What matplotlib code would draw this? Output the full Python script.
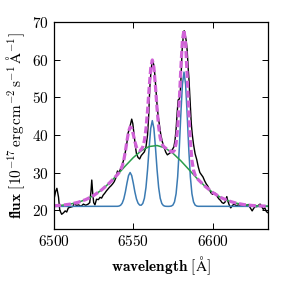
import matplotlib
matplotlib.use("Agg")
import matplotlib.pyplot as plt

plt.rcParams['font.family'] = 'serif'
plt.rcParams['font.serif'] = ['cmr10', 'DejaVu Serif']
plt.rcParams['mathtext.fontset'] = 'cm'
plt.rcParams['axes.formatter.use_mathtext'] = True

wl_obs = [6500.0, 6501.0, 6501.8, 6502.8, 6503.6, 6504.8, 6506.0, 6507.0, 6508.0, 6509.0,
          6510.5, 6512.0, 6513.0, 6514.0, 6515.5, 6517.0, 6518.5, 6520.0, 6521.5, 6522.5,
          6523.3, 6523.8, 6524.4, 6525.0, 6525.8, 6526.8, 6528.0, 6529.0, 6530.0, 6531.0,
          6532.0, 6533.0, 6534.0, 6535.0, 6536.0, 6537.0, 6538.0, 6539.0, 6540.0, 6541.0,
          6542.0, 6543.0, 6544.0, 6545.0, 6546.0, 6546.7, 6547.5, 6548.3, 6549.0, 6549.7,
          6550.5, 6551.3, 6552.0, 6553.0, 6554.0, 6555.0, 6556.0, 6557.0, 6558.0, 6559.0,
          6559.7, 6560.4, 6561.0, 6561.6, 6562.2, 6563.0, 6563.6, 6564.2, 6565.0, 6565.7,
          6566.5, 6567.3, 6568.3, 6569.4, 6570.5, 6571.5, 6572.5, 6573.5, 6574.5, 6575.6,
          6576.3, 6577.0, 6577.7, 6578.3, 6579.0, 6579.6, 6580.2, 6580.8, 6581.5, 6582.1,
          6582.8, 6583.4, 6584.0, 6584.6, 6585.1, 6585.6, 6586.1, 6586.6, 6587.2, 6588.0,
          6589.0, 6590.0, 6591.0, 6592.0, 6593.0, 6594.0, 6595.0, 6596.0, 6597.0, 6598.0,
          6599.0, 6600.0, 6601.0, 6602.0, 6603.0, 6604.0, 6605.0, 6606.0, 6607.0, 6608.0,
          6609.0, 6609.6, 6610.5, 6611.5, 6612.5, 6613.5, 6615.0, 6616.5, 6618.0, 6619.5,
          6621.0, 6622.5, 6623.8, 6625.0, 6626.0, 6627.0, 6628.0, 6629.0, 6630.0, 6631.0,
          6632.0, 6633.0, 6634.0, 6635.0]
flux_obs = [23.0, 25.0, 25.8, 23.5, 20.0, 18.9, 19.3, 19.8, 19.5, 20.6,
            20.8, 21.0, 22.0, 21.2, 21.4, 21.0, 21.6, 21.3, 21.6, 22.0,
            25.0, 28.0, 24.5, 22.0, 21.4, 22.9, 22.8, 23.4, 23.2, 24.0,
            24.5, 25.1, 25.6, 26.1, 26.5, 27.0, 27.6, 28.6, 30.4, 30.0,
            31.0, 32.0, 33.5, 35.5, 38.0, 40.5, 41.5, 43.0, 44.2, 43.0,
            40.0, 37.0, 35.0, 34.0, 33.6, 34.5, 35.0, 35.5, 36.8, 40.0,
            45.0, 52.5, 56.0, 58.5, 59.8, 58.5, 56.0, 52.5, 48.0, 45.0,
            42.5, 40.2, 38.2, 36.7, 35.4, 34.7, 35.0, 35.3, 36.0, 36.8,
            38.5, 41.5, 46.0, 49.3, 49.5, 51.0, 56.0, 62.5, 66.0, 67.7,
            66.5, 65.0, 62.5, 58.0, 55.0, 51.0, 46.5, 43.0, 40.2, 37.5,
            35.0, 33.5, 31.5, 30.0, 29.4, 28.8, 27.8, 27.0, 26.4, 25.5,
            24.6, 24.2, 24.6, 24.4, 23.6, 23.0, 22.6, 22.0, 21.8, 22.2,
            23.6, 22.5, 21.4, 20.6, 21.2, 21.6, 21.2, 21.4, 21.0, 21.3,
            21.0, 21.5, 20.6, 19.8, 20.5, 21.0, 20.9, 21.3, 21.6, 21.0,
            20.2, 20.6, 19.6, 19.3]

# narrow lines on top of the continuum
wl_narrow = [6500,
             6540, 6541, 6542, 6543, 6544, 6545, 6546, 6547, 6548, 6549,
             6550, 6551, 6552, 6553, 6554, 6555, 6556, 6557, 6558, 6559,
             6560, 6561, 6562, 6563, 6564, 6565, 6566, 6567, 6568, 6569,
             6570, 6571, 6572, 6573, 6574, 6575, 6576, 6577, 6578, 6579,
             6580, 6581, 6582, 6583, 6584, 6585, 6586, 6587, 6588, 6589,
             6590, 6591,
             6635]
flux_narrow = [21.0,
               21.02, 21.09, 21.30, 21.85, 22.98, 24.84, 27.17, 29.19, 30.00, 29.19,
               27.17, 24.84, 22.98, 21.86, 21.35, 21.31, 21.78, 23.15, 26.03, 30.74,
               36.62, 41.74, 43.80, 41.74, 36.62, 30.74, 26.03, 23.15, 21.76, 21.22,
               21.05, 21.01, 21.00, 21.02, 21.09, 21.35, 22.19, 24.36, 28.87, 36.25,
               45.46, 53.48, 56.70, 53.48, 45.46, 36.25, 28.87, 24.36, 22.19, 21.35,
               21.09, 21.02,
               21.0]

# broad component
wl_broad = [6500, 6505, 6510, 6515, 6520, 6525, 6530, 6535, 6540, 6545, 6550, 6555, 6560, 6565,
            6570, 6575, 6580, 6585, 6590, 6595, 6600, 6605, 6610, 6615, 6620, 6625, 6630, 6635]
flux_broad = [21.16, 21.31, 21.59, 22.06, 22.80, 23.89, 25.37, 27.24, 29.43, 31.76, 33.97, 35.78, 36.91, 37.18,
              36.55, 35.12, 33.12, 30.83, 28.53, 26.45, 24.73, 23.41, 22.47, 21.85, 21.46, 21.24, 21.12, 21.06]

# total model
wl_model = [6500, 6505, 6510, 6515, 6520, 6525, 6530, 6535,
            6540, 6541, 6542, 6543, 6544, 6545, 6546, 6547, 6548, 6549,
            6550, 6551, 6552, 6553, 6554, 6555, 6556, 6557, 6558, 6559,
            6560, 6561, 6562, 6563, 6564, 6565, 6566, 6567, 6568, 6569,
            6570, 6571, 6572, 6573, 6574, 6575, 6576, 6577, 6578, 6579,
            6580, 6581, 6582, 6583, 6584, 6585, 6586, 6587, 6588, 6589,
            6590, 6591,
            6595, 6600, 6605, 6610, 6615, 6620, 6625, 6630, 6635]
flux_model = [21.16, 21.31, 21.59, 22.06, 22.80, 23.89, 25.37, 27.24,
              29.45, 29.98, 30.66, 31.68, 33.27, 35.60, 38.39, 40.86, 42.12, 41.74,
              40.14, 38.21, 36.74, 35.98, 35.81, 36.09, 36.85, 38.47, 41.58, 46.49,
              52.53, 57.78, 59.93, 57.92, 52.82, 46.92, 42.16, 39.19, 37.67, 36.97,
              36.60, 36.33, 36.07, 35.80, 35.55, 35.47, 35.95, 37.73, 41.84, 48.80,
              57.58, 65.15, 67.92, 64.24, 55.75, 46.08, 38.23, 33.25, 30.62, 29.33,
              28.62, 28.11,
              26.45, 24.73, 23.41, 22.47, 21.85, 21.46, 21.24, 21.12, 21.06]

fig = plt.figure(figsize=(2.83, 2.83), dpi=100)
ax = fig.add_axes([0.191, 0.191, 0.756, 0.731])

ax.plot(wl_obs, flux_obs, color='k', lw=1.0)
ax.plot(wl_narrow, flux_narrow, color='#3b7bb3', lw=1.1)
ax.plot(wl_broad, flux_broad, color='#2a9d4a', lw=1.1)
ax.plot(wl_model, flux_model, color='#d062d6', lw=2.3, dashes=(2.2, 0.9))

ax.set_xlim(6500, 6635)
ax.set_ylim(15, 70)
ax.set_xticks([6500, 6550, 6600])
ax.set_yticks([20, 30, 40, 50, 60, 70])
ax.tick_params(direction='in', top=True, right=True, length=4, width=0.7, labelsize=11)
for s in ax.spines.values():
    s.set_linewidth(0.9)

ax.set_xlabel(r'$\mathbf{wavelength}\ \mathrm{[\AA]}$', fontsize=11)
ax.set_ylabel(r'$\mathbf{flux}\ \mathrm{[10^{-17}\,erg\,cm^{-2}\,s^{-1}\,\AA^{-1}]}$', fontsize=11)

plt.savefig('out.png', dpi=100)
